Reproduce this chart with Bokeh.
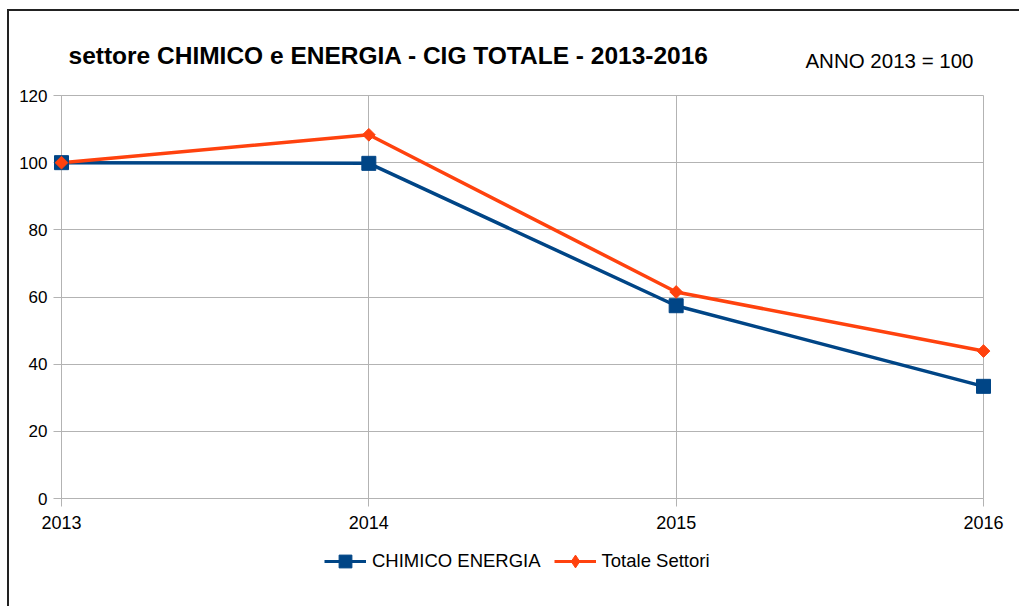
import math
from bokeh.plotting import figure
from bokeh.layouts import column
from bokeh.core.properties import value
from bokeh.models import Range1d, FixedTicker, Legend, LegendItem, ColumnDataSource
from bokeh.embed import file_html
from bokeh.resources import INLINE

# ---- data ----
years = ["2013", "2014", "2015", "2016"]
chimico_energia = [100.0, 99.8, 57.4, 33.4]
totale_settori = [100.0, 108.3, 61.5, 43.9]
y_ticks = [0, 20, 40, 60, 80, 100, 120]
series_names = ["CHIMICO ENERGIA", "Totale Settori"]

title_text = "settore CHIMICO e ENERGIA - CIG TOTALE - 2013-2016"
note_text = "ANNO 2013 = 100"

BLUE = "#004586"
ORANGE = "#ff420e"
GRID = "#b3b3b3"
FONT = "Liberation Sans"

xs = list(range(len(years)))

# ---------------- main chart ----------------
p = figure(width=1010, height=529, output_backend="svg", toolbar_location=None,
           x_range=Range1d(xs[0], xs[-1]), y_range=Range1d(y_ticks[0], y_ticks[-1]),
           min_border_left=52, min_border_right=36, min_border_top=84,
           min_border_bottom=42)
p.background_fill_color = "white"
p.border_fill_color = "white"
p.outline_line_color = GRID
p.outline_line_width = 1

p.title.text = title_text
p.title.text_font = FONT
p.title.text_font_style = "bold"
p.title.text_font_size = "24.5px"
p.title.text_color = "black"
p.title.align = "left"
p.title.offset = 7
p.title.standoff = 54

p.xaxis.ticker = FixedTicker(ticks=xs)
p.xaxis.major_label_overrides = {i: y for i, y in enumerate(years)}
p.yaxis.ticker = FixedTicker(ticks=y_ticks)
for ax in (p.xaxis, p.yaxis):
    ax.axis_line_color = GRID
    ax.major_tick_line_color = GRID
    ax.major_tick_out = 8
    ax.major_tick_in = 0
    ax.minor_tick_line_color = None
    ax.major_label_text_color = "black"
    ax.major_label_text_font = FONT
p.xaxis.major_label_standoff = 9
p.yaxis.major_label_standoff = 6
p.xaxis.major_label_text_font_size = "18px"
p.yaxis.major_label_text_font_size = "17px"

p.xgrid.ticker = FixedTicker(ticks=xs)
p.ygrid.ticker = FixedTicker(ticks=y_ticks)
p.grid.grid_line_color = GRID
p.grid.grid_line_width = 1

src = ColumnDataSource(dict(x=xs, c=chimico_energia, t=totale_settori))

p.line("x", "c", source=src, line_color=BLUE, line_width=3.5)
p.scatter("x", "c", source=src, marker="square", size=14, fill_color=BLUE,
          line_color=BLUE, level="overlay")
p.line("x", "t", source=src, line_color=ORANGE, line_width=3.5)
p.scatter("x", "t", source=src, marker="square", angle=math.pi / 4, size=9,
          fill_color=ORANGE, line_color=ORANGE, level="overlay")

# note at the top right, above the plot area
p.text(x=[xs[-1]], y=[y_ticks[-1]], text=[note_text], x_offset=-10, y_offset=-35,
       text_align="right", text_baseline="alphabetic", text_font=value(FONT),
       text_font_size="20.5px", text_color="black", level="overlay")

# ---------------- legend strip ----------------
pl = figure(width=1010, height=66, output_backend="svg", toolbar_location=None,
            x_range=Range1d(0, 1), y_range=Range1d(0, 1),
            x_axis_type=None, y_axis_type=None,
            min_border_left=0, min_border_right=0, min_border_top=0,
            min_border_bottom=0)
pl.outline_line_color = None
pl.background_fill_color = "white"
pl.border_fill_color = "white"
pl.grid.visible = False

nan_src = ColumnDataSource(dict(x=[float("nan")], y=[float("nan")]))
la = pl.line("x", "y", source=nan_src, line_color=BLUE, line_width=3)
ma = pl.scatter("x", "y", source=nan_src, marker="square", size=12,
                fill_color=BLUE, line_color=BLUE)
lb = pl.line("x", "y", source=nan_src, line_color=ORANGE, line_width=3)
mb = pl.scatter("x", "y", source=nan_src, marker="diamond", size=12,
                fill_color=ORANGE, line_color=ORANGE)

legend = Legend(items=[LegendItem(label=series_names[0], renderers=[la, ma]),
                       LegendItem(label=series_names[1], renderers=[lb, mb])],
                orientation="horizontal", location=(263, 29), glyph_width=42,
                glyph_height=32, label_standoff=6, spacing=13, padding=4, margin=0,
                border_line_color=None, background_fill_alpha=0,
                label_text_font_size="18.5px", label_text_font=FONT,
                label_text_color="black", label_height=20)
pl.add_layout(legend)

layout = column(p, pl, spacing=0)
layout.margin = (9, 0, 0, 7)
layout.styles = {"border-left": "2px solid #222222", "border-top": "2px solid #222222"}

open("out.html", "w").write(file_html(layout, INLINE))
